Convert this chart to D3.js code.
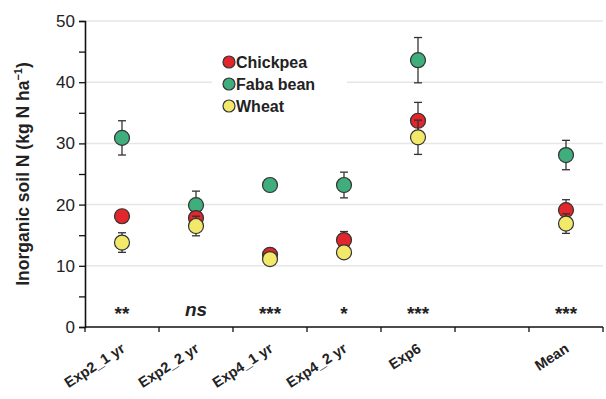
<!DOCTYPE html>
<html><head><meta charset="utf-8">
<script src="https://cdn.jsdelivr.net/npm/d3@7"></script>
<style>body{margin:0;background:#fff}text{font-family:"Liberation Sans",Arial,sans-serif}</style>
</head><body><svg id="c" width="606" height="399"></svg>
<script>
const categories = ["Exp2_1 yr","Exp2_2 yr","Exp4_1 yr","Exp4_2 yr","Exp6","","Mean"];
const seriesNames = ["Chickpea","Faba bean","Wheat"];
const chickpea = [18.1, 17.8, 11.8, 14.2, 33.7, null, 19.1];
const chickpeaSE = [0.6, 0.8, 0.5, 1.4, 3.0, null, 1.7];
const faba = [30.9, 19.9, 23.2, 23.2, 43.6, null, 28.1];
const fabaSE = [2.8, 2.3, 0.6, 2.1, 3.7, null, 2.4];
const wheat = [13.8, 16.5, 11.1, 12.2, 31.0, null, 16.9];
const wheatSE = [1.6, 1.6, 1.0, 0.6, 2.8, null, 1.6];
const signif = ["**","ns","***","*","***","","***"];
const yTicks = [0,10,20,30,40,50];
const colors = ["#e3262b","#3fae7c","#f2e86a"];

const svg = d3.select("#c");
const x = d3.scaleBand().domain(d3.range(categories.length)).range([85,603]);
const y = d3.scaleLinear().domain([0,50]).range([327,21]);

// gridlines
svg.append("g").selectAll("line").data(yTicks.filter(d=>d>0)).join("line")
  .attr("x1",86).attr("x2",603).attr("y1",d=>y(d)).attr("y2",d=>y(d))
  .attr("stroke","#e6e6e6").attr("stroke-width",1.5);

// y axis
const yAx = svg.append("g").attr("transform","translate(85,0)")
  .call(d3.axisLeft(y).tickValues(d3.range(0,51,5)).tickSize(6).tickFormat(d=>d%10===0?d:""));
yAx.select(".domain").attr("stroke","#111").attr("stroke-width",1.6);
yAx.selectAll(".tick line").attr("stroke","#111").attr("stroke-width",1.3);
yAx.selectAll(".tick text").attr("font-size",17).attr("fill","#222").attr("x",-10);

// x axis
const xAx = svg.append("g").attr("transform","translate(0,327)");
xAx.append("line").attr("x1",85).attr("x2",603).attr("stroke","#111").attr("stroke-width",1.6);
xAx.selectAll("line.t").data(d3.range(categories.length+1)).join("line").attr("class","t")
  .attr("x1",d=>85+d*x.step()).attr("x2",d=>85+d*x.step()).attr("y1",0).attr("y2",5)
  .attr("stroke","#111").attr("stroke-width",1.3);
xAx.selectAll("text").data(categories.map((c,i)=>({c,i})).filter(d=>d.c)).join("text")
  .attr("transform",d=>`translate(${x(d.i)+x.bandwidth()/2+4},${24}) rotate(-33)`)
  .attr("text-anchor","end").attr("font-size",14.5).attr("font-weight","bold").attr("fill","#222")
  .text(d=>d.c);

// y label
svg.append("text").attr("transform","translate(29,174) rotate(-90)").attr("text-anchor","middle")
  .attr("font-size",17.5).attr("font-weight","bold").attr("fill","#222")
  .html('Inorganic soil N (kg N ha<tspan dy="-7" font-size="11">−1</tspan><tspan dy="7">)</tspan>');

// legend
const leg = svg.append("g");
leg.append("rect").attr("x",212).attr("y",50).attr("width",135).attr("height",66).attr("fill","#fff");
seriesNames.forEach((s,i)=>{
  leg.append("circle").attr("cx",229).attr("cy",62+i*22).attr("r",6)
    .attr("fill",colors[i]).attr("stroke","#333").attr("stroke-width",1.2);
  leg.append("text").attr("x",236).attr("y",68+i*22).attr("font-size",16).attr("font-weight","bold")
    .attr("fill","#222").text(s);
});

// series
const series = [[chickpea,chickpeaSE],[faba,fabaSE],[wheat,wheatSE]];
const drawOrder = [1,0,2];
drawOrder.forEach(si=>{
  const [vals,se] = series[si];
  const g = svg.append("g");
  const data = vals.map((v,i)=>({v,s:se[i],i})).filter(d=>d.v!=null);
  const cx = d=>x(d.i)+x.bandwidth()/2;
  g.selectAll("line.e").data(data).join("line").attr("class","e")
    .attr("x1",cx).attr("x2",cx).attr("y1",d=>y(d.v-d.s)).attr("y2",d=>y(d.v+d.s))
    .attr("stroke","#333").attr("stroke-width",1.3);
  [-1,1].forEach(k=>{
    g.selectAll("line.c"+(k+1)).data(data).join("line").attr("class","c"+(k+1))
      .attr("x1",d=>cx(d)-4).attr("x2",d=>cx(d)+4)
      .attr("y1",d=>y(d.v+k*d.s)).attr("y2",d=>y(d.v+k*d.s))
      .attr("stroke","#333").attr("stroke-width",1.3);
  });
  g.selectAll("circle").data(data).join("circle")
    .attr("cx",cx).attr("cy",d=>y(d.v)).attr("r",7.5)
    .attr("fill",colors[si]).attr("stroke","#333").attr("stroke-width",1.2);
});

// significance
svg.append("g").selectAll("text").data(signif.map((s,i)=>({s,i})).filter(d=>d.s)).join("text")
  .attr("x",d=>x(d.i)+x.bandwidth()/2).attr("y",d=>d.s==="ns"?316:320)
  .attr("text-anchor","middle").attr("font-weight","bold")
  .attr("font-size",d=>d.s==="ns"?19:19).attr("font-style",d=>d.s==="ns"?"italic":"normal")
  .attr("fill","#222").text(d=>d.s);
</script></body></html>
